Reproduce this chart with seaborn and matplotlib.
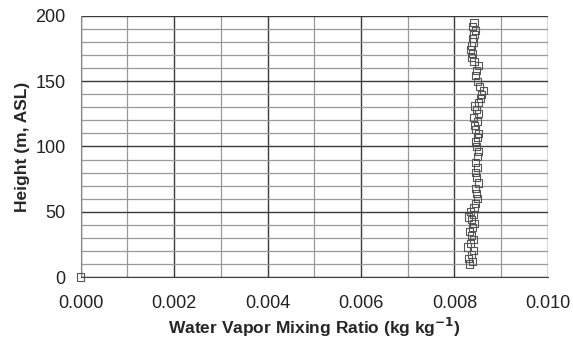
import numpy as np
import pandas as pd
import matplotlib
matplotlib.use("Agg")
import matplotlib.pyplot as plt
import seaborn as sns
from matplotlib.ticker import MultipleLocator

# profile values
height = [0, 10, 12, 14, 17, 20, 23, 26, 29, 32, 35, 38, 41, 44, 46, 48, 50, 53, 56,
          60, 64, 68, 72, 76, 80, 84, 88, 92, 96, 100, 104, 107, 110, 113, 116, 119,
          122, 125, 128, 131, 134, 137, 140, 143, 146, 150, 154, 158, 162, 165, 168,
          171, 174, 177, 180, 183, 186, 189, 192, 195]
mixing = [0.0, 0.00832, 0.00838, 0.00830, 0.00836, 0.00840, 0.00828, 0.00834, 0.00840,
          0.00836, 0.00832, 0.00838, 0.00842, 0.00836, 0.00830, 0.00840, 0.00834,
          0.00842, 0.00846, 0.00850, 0.00848, 0.00846, 0.00852, 0.00848, 0.00846,
          0.00850, 0.00846, 0.00850, 0.00852, 0.00848, 0.00846, 0.00850, 0.00852,
          0.00846, 0.00844, 0.00850, 0.00840, 0.00852, 0.00848, 0.00844, 0.00852,
          0.00856, 0.00858, 0.00862, 0.00854, 0.00850, 0.00846, 0.00848, 0.00852,
          0.00842, 0.00836, 0.00838, 0.00834, 0.00836, 0.00840, 0.00838, 0.00842,
          0.00846, 0.00838, 0.00842]

df = pd.DataFrame({"mixing": mixing, "height": height})

sns.set_style("white")
plt.rcParams['font.family'] = ['Liberation Sans', 'DejaVu Sans']

fig = plt.figure(figsize=(5.73, 3.45), dpi=100)
ax = fig.add_axes([0.141, 0.197, 0.815, 0.757])

sns.scatterplot(data=df, x="mixing", y="height", ax=ax, marker="s", s=26,
                facecolors="none", edgecolor="#555555", linewidth=0.8, zorder=3)
for c in ax.collections:
    c.set_clip_on(False)

ax.set_xlim(0, 0.010)
ax.set_ylim(0, 200)
ax.xaxis.set_major_locator(MultipleLocator(0.002))
ax.xaxis.set_minor_locator(MultipleLocator(0.001))
ax.yaxis.set_major_locator(MultipleLocator(50))
ax.yaxis.set_minor_locator(MultipleLocator(10))
ax.set_xticks(ax.get_xticks())
ax.set_xticklabels([f"{v:.3f}" for v in ax.get_xticks()])
ax.set_xlim(0, 0.010)

ax.grid(which="major", color="#3a3a3a", linewidth=1.0)
ax.grid(which="minor", color="#999999", linewidth=0.9)
ax.set_axisbelow(True)

ax.tick_params(which="major", direction="out", length=6, width=1, color="#555555",
               labelsize=13, labelcolor="#222222")
ax.tick_params(axis="x", pad=7)
ax.tick_params(axis="y", pad=5)
ax.tick_params(which="minor", length=0)

for side in ["top", "right"]:
    ax.spines[side].set_visible(False)
ax.spines["left"].set_color("#888888")
ax.spines["bottom"].set_color("#444444")

ax.set_xlabel("Water Vapor Mixing Ratio (kg kg$^{\\mathbf{-1}}$)", fontsize=12.5,
              fontweight="bold", labelpad=3)
ax.set_ylabel("Height (m, ASL)", fontsize=12.5, fontweight="bold", labelpad=4)

fig.savefig("out.png", dpi=100)
